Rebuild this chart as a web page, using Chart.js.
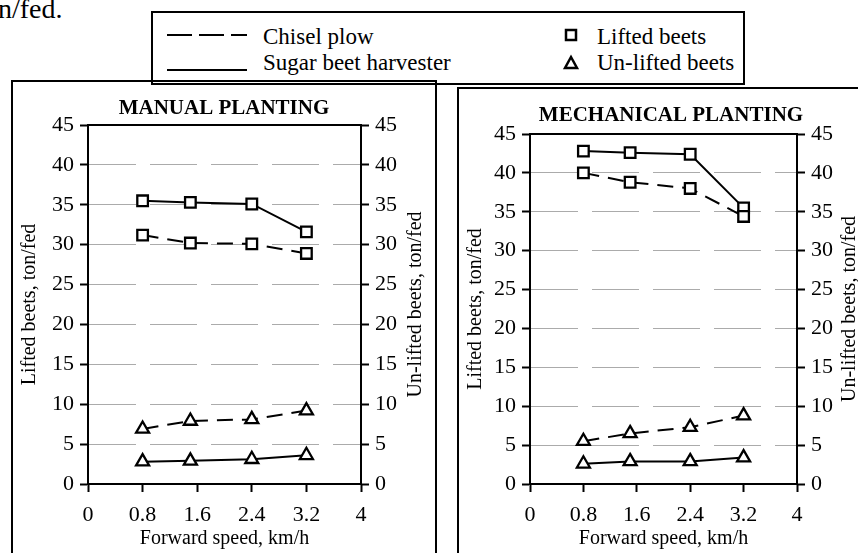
<!DOCTYPE html>
<html>
<head>
<meta charset="utf-8">
<script src="https://cdn.jsdelivr.net/npm/chart.js@4.4.0/dist/chart.umd.min.js"></script>
<style>
  html, body { margin: 0; padding: 0; width: 858px; height: 553px; overflow: hidden; background: #fff; font-family: 'Liberation Serif', serif; color: #000; }
  .abs { position: absolute; }
  .box { position: absolute; border: 2px solid #000; box-sizing: border-box; }
  .lg { position: absolute; font-size: 23px; line-height: 23px; white-space: nowrap; }
</style>
</head>
<body>
<div class="abs" style="left:-2px;top:-5px;font-size:28px;line-height:28px;">n/fed.</div>

<div class="box" style="left:11px;top:80px;width:426px;height:500px;"></div>
<div class="box" style="left:457px;top:87px;width:500px;height:500px;"></div>
<div class="box" style="left:151px;top:11px;width:594px;height:74px;"></div>

<svg class="abs" style="left:0;top:0" width="858" height="100">
  <line x1="167" y1="35" x2="247" y2="35" stroke="#000" stroke-width="2" stroke-dasharray="25 7"/>
  <line x1="167" y1="70" x2="247" y2="70" stroke="#000" stroke-width="2"/>
  <rect x="566" y="30" width="10" height="10" fill="#fff" stroke="#000" stroke-width="2.5"/>
  <polygon points="571,57 577,68 565,68" fill="#fff" stroke="#000" stroke-width="2.5"/>
</svg>
<div class="lg" style="left:263px;top:25px;">Chisel plow</div>
<div class="lg" style="left:263px;top:51px;">Sugar beet harvester</div>
<div class="lg" style="left:597px;top:25px;">Lifted beets</div>
<div class="lg" style="left:597px;top:51px;">Un-lifted beets</div>

<canvas id="manual" class="abs" style="left:14px;top:83px;" width="420" height="470"></canvas>
<canvas id="mech" class="abs" style="left:461px;top:91px;" width="420" height="462"></canvas>

<script>
// forward speeds used in the trials (km/h)
const speeds = [0.8, 1.5, 2.4, 3.2];
const xTicks = [0, 0.8, 1.6, 2.4, 3.2, 4];
const xTickLabels = ["0", "0.8", "1.6", "2.4", "3.2", "4"];
const yTicks = [0, 5, 10, 15, 20, 25, 30, 35, 40, 45];

// manual planting, ton/fed
const manualChiselLifted = [31.2, 30.2, 30.1, 28.9];
const manualHarvesterLifted = [35.5, 35.3, 35.1, 31.6];
const manualChiselUnlifted = [6.9, 7.9, 8.1, 9.2];
const manualHarvesterUnlifted = [2.8, 2.9, 3.1, 3.6];

// mechanical planting, ton/fed
const mechChiselLifted = [40.0, 38.8, 38.0, 34.4];
const mechHarvesterLifted = [42.8, 42.6, 42.4, 35.5];
const mechChiselUnlifted = [5.5, 6.5, 7.3, 8.8];
const mechHarvesterUnlifted = [2.6, 2.9, 2.9, 3.4];

Chart.defaults.font.family = "'Liberation Serif', 'Times New Roman', serif";
Chart.defaults.color = "#000";

// black line along the top of the plot area
const frameTop = {
  id: "frameTop",
  beforeDatasetsDraw(chart) {
    const { ctx, chartArea: a } = chart;
    ctx.save();
    ctx.strokeStyle = "#000";
    ctx.lineWidth = 2;
    ctx.beginPath();
    ctx.moveTo(a.left - 1, a.top);
    ctx.lineTo(a.right + 1, a.top);
    ctx.stroke();
    ctx.restore();
  }
};

// right axis title, read bottom to top like the left one
const rightTitle = {
  id: "rightTitle",
  afterDraw(chart, args, opts) {
    const { ctx, chartArea: a } = chart;
    ctx.save();
    ctx.translate(opts.x, (a.top + a.bottom) / 2);
    ctx.rotate(-Math.PI / 2);
    ctx.font = "20px 'Liberation Serif', serif";
    ctx.fillStyle = "#000";
    ctx.textAlign = "center";
    ctx.textBaseline = "middle";
    ctx.fillText(opts.text, 0, 0);
    ctx.restore();
  }
};

function series(vals, dashed, style, axis) {
  return {
    data: speeds.map((x, i) => ({ x: x, y: vals[i] })),
    yAxisID: axis,
    borderColor: "#000",
    borderWidth: 2,
    borderDash: dashed ? [16, 9] : [],
    pointStyle: style,
    pointRadius: 7.5,
    pointBorderWidth: 2.3,
    pointBackgroundColor: "#fff",
    pointBorderColor: "#000",
    fill: false,
    tension: 0
  };
}

function yAxis(pos, lay, text, pad) {
  return {
    position: pos,
    min: 0,
    max: 45,
    afterBuildTicks: s => { s.ticks = yTicks.map(v => ({ value: v })); },
    afterFit: s => { s.width = pos == "left" ? lay.yl : lay.yr; },
    ticks: { font: { size: 22 }, color: "#000", padding: 6 },
    grid: {
      drawOnChartArea: pos == "left",
      color: "#ababab",
      lineWidth: 1,
      tickLength: 8,
      tickColor: "#000",
      tickWidth: 2
    },
    border: { display: true, color: "#000", width: 2, dash: [47, 14] },
    title: { display: pos == "left", text: text, font: { size: 20 }, color: "#000", padding: { top: pad, bottom: 0 } }
  };
}

function makeChart(id, title, lifted, unlifted, lay) {
  new Chart(document.getElementById(id), {
    type: "line",
    data: {
      datasets: [
        series(lifted[0], true, "rect", "y"),
        series(lifted[1], false, "rect", "y"),
        series(unlifted[0], true, "triangle", "y1"),
        series(unlifted[1], false, "triangle", "y1")
      ]
    },
    options: {
      responsive: false,
      animation: false,
      layout: { padding: 0 },
      plugins: {
        legend: { display: false },
        tooltip: { enabled: false },
        title: {
          display: true,
          text: title,
          color: "#000",
          font: { size: 21, weight: "bold" },
          padding: { top: lay.tt, bottom: lay.tb }
        },
        rightTitle: { text: "Un-lifted beets, ton/fed", x: lay.rx }
      },
      scales: {
        x: {
          type: "linear",
          min: 0,
          max: 4,
          afterBuildTicks: s => { s.ticks = xTicks.map(v => ({ value: v })); },
          afterFit: s => { s.height = lay.xh; },
          ticks: {
            callback: (v, i) => xTickLabels[i],
            font: { size: 22 },
            color: "#000",
            padding: 10,
            maxRotation: 0,
            autoSkip: false
          },
          grid: { drawOnChartArea: false, drawTicks: true, tickLength: 8, tickColor: "#000", tickWidth: 2 },
          border: { display: true, color: "#000", width: 2 },
          title: { display: true, text: "Forward speed, km/h", font: { size: 20 }, color: "#000", padding: { top: 0, bottom: 2 } }
        },
        y: yAxis("left", lay, "Lifted beets, ton/fed", lay.pl),
        y1: yAxis("right", lay, "Un-lifted beets, ton/fed", 0)
      }
    },
    plugins: [frameTop, rightTitle]
  });
}

makeChart("manual", "MANUAL PLANTING",
  [manualChiselLifted, manualHarvesterLifted],
  [manualChiselUnlifted, manualHarvesterUnlifted],
  { yl: 74, yr: 73, xh: 69, tt: 13.4, tb: 3.4, pl: 3.5, rx: 401.5 });

makeChart("mech", "MECHANICAL PLANTING",
  [mechChiselLifted, mechHarvesterLifted],
  [mechChiselUnlifted, mechHarvesterUnlifted],
  { yl: 69, yr: 84, xh: 69, tt: 12.4, tb: 5.4, pl: 3, rx: 389 });
</script>
</body>
</html>
